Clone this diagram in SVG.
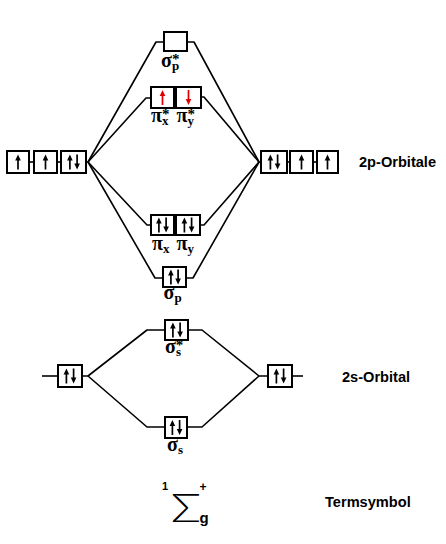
<svg xmlns="http://www.w3.org/2000/svg" width="446" height="544" viewBox="0 0 446 544">
<style>
.box{fill:#fff;stroke:#000;stroke-width:2}
.ln{fill:none;stroke:#000;stroke-width:1.6;stroke-linejoin:round}
.lbl{font-family:"Liberation Serif",serif;font-weight:bold;fill:#000;font-size:20px}
.sub{font-size:13px}
.sup{font-size:15px}
.side{font-family:"Liberation Sans",Arial,sans-serif;font-weight:bold;font-size:14.6px;fill:#000}
.ts{font-family:"Liberation Sans",Arial,sans-serif;font-weight:bold;fill:#000}
</style>
<defs>
<g id="up"><line x1="0" y1="7.5" x2="0" y2="-2" stroke="#000" stroke-width="1.7"/><polygon points="-2.8,-1.5 2.8,-1.5 0,-7.5" fill="#000"/></g>
<g id="dn"><line x1="0" y1="-7.5" x2="0" y2="2" stroke="#000" stroke-width="1.7"/><polygon points="-2.8,1.5 2.8,1.5 0,7.5" fill="#000"/></g>
<g id="upr"><line x1="0" y1="7.5" x2="0" y2="-2" stroke="#e00000" stroke-width="1.7"/><polygon points="-2.8,-1.5 2.8,-1.5 0,-7.5" fill="#e00000"/></g>
<g id="dnr"><line x1="0" y1="-7.5" x2="0" y2="2" stroke="#e00000" stroke-width="1.7"/><polygon points="-2.8,1.5 2.8,1.5 0,7.5" fill="#e00000"/></g>
<g id="pair"><use href="#up" x="-3.6"/><use href="#dn" x="3.6"/></g>
</defs>
<rect width="446" height="544" fill="#fff"/>

<g id="connectors">
<polyline class="ln" points="29,162 34,162"/>
<polyline class="ln" points="57,162 61,162"/>
<polyline class="ln" points="287,162 290,162"/>
<polyline class="ln" points="313,162 317,162"/>
<polyline class="ln" points="86,162 88,162 156,42 164,42"/>
<polyline class="ln" points="88,162 146,98 151,98"/>
<polyline class="ln" points="88,162 147,225 151,225"/>
<polyline class="ln" points="88,162 155,278 163,278"/>
<polyline class="ln" points="261,162 259,162 194,42 187,42"/>
<polyline class="ln" points="259,162 204,97 201,97"/>
<polyline class="ln" points="259,162 204,225 200,225"/>
<polyline class="ln" points="259,162 193,278 186,278"/>
<polyline class="ln" points="42,376 58,376"/>
<polyline class="ln" points="82,376 88,376 147,330 165,330"/>
<polyline class="ln" points="88,376 147,427 165,427"/>
<polyline class="ln" points="268,376 259,376 202,330 188,330"/>
<polyline class="ln" points="259,376 202,427 187,427"/>
<polyline class="ln" points="292,376 303,376"/>
</g>

<g id="left-2p">
<rect class="box" x="7" y="151" width="22" height="22"/><use href="#up" x="18" y="162"/>
<rect class="box" x="34" y="151" width="23" height="22"/><use href="#up" x="45.5" y="162"/>
<rect class="box" x="61" y="151" width="25" height="22"/><use href="#pair" x="73.5" y="162"/>
</g>

<g id="right-2p">
<rect class="box" x="261" y="151" width="26" height="22"/><use href="#pair" x="274" y="162"/>
<rect class="box" x="290" y="151" width="23" height="22"/><use href="#up" x="301.5" y="162"/>
<rect class="box" x="317" y="151" width="21" height="22"/><use href="#up" x="327.5" y="162"/>
</g>

<g id="sigma-p-star">
<rect class="box" x="164" y="32" width="23" height="19"/>
<text class="lbl" x="161" y="67">σ<tspan class="sub" dy="3">p</tspan><tspan class="sup" dx="-7.2" dy="-6">*</tspan></text>
</g>

<g id="pi-star">
<rect class="box" x="151" y="87" width="23" height="21"/><use href="#upr" x="162.5" y="97.5"/>
<rect class="box" x="176" y="87" width="25" height="21"/><use href="#dnr" x="188.5" y="97.5"/>
<text class="lbl" x="151" y="122">π<tspan class="sub" dy="3">x</tspan><tspan class="sup" dx="-6.5" dy="-6">*</tspan></text>
<text class="lbl" x="176.5" y="122">π<tspan class="sub" dy="3">y</tspan><tspan class="sup" dx="-6.5" dy="-6">*</tspan></text>
</g>

<g id="pi">
<rect class="box" x="151" y="215" width="23" height="20"/><use href="#pair" x="162.5" y="225"/>
<rect class="box" x="176" y="215" width="24" height="20"/><use href="#pair" x="188" y="225"/>
<text class="lbl" x="152" y="250">π<tspan class="sub" dy="3">x</tspan></text>
<text class="lbl" x="176.5" y="250">π<tspan class="sub" dy="3">y</tspan></text>
</g>

<g id="sigma-p">
<rect class="box" x="163" y="267" width="23" height="20"/><use href="#pair" x="174.5" y="277"/>
<text class="lbl" x="163.5" y="299">σ<tspan class="sub" dy="3">p</tspan></text>
</g>

<g id="left-2s">
<rect class="box" x="58" y="365" width="24" height="22"/><use href="#pair" x="70" y="376"/>
</g>

<g id="right-2s">
<rect class="box" x="268" y="365" width="24" height="22"/><use href="#pair" x="280" y="376"/>
</g>

<g id="sigma-s-star">
<rect class="box" x="165" y="320" width="23" height="20"/><use href="#pair" x="176.5" y="330"/>
<text class="lbl" x="165" y="353">σ<tspan class="sub" dy="3">s</tspan><tspan class="sup" dx="-5.1" dy="-6">*</tspan></text>
</g>

<g id="sigma-s">
<rect class="box" x="165" y="417" width="22" height="21"/><use href="#pair" x="176" y="427.5"/>
<text class="lbl" x="167" y="451">σ<tspan class="sub" dy="3">s</tspan></text>
</g>

<g id="labels">
<text class="side" x="359" y="167">2p-Orbitale</text>
<text class="side" x="342" y="382">2s-Orbital</text>
<text class="side" x="325" y="507">Termsymbol</text>
</g>

<g id="term-symbol">
<text transform="translate(171,522) scale(1.25,1)" x="0" y="0" font-family="Lato,sans-serif" font-weight="300" font-size="40" fill="#000">Σ</text>
<text class="ts" x="162" y="490" font-size="11">1</text>
<text class="ts" x="199.5" y="491" font-size="12">+</text>
<text class="ts" x="199.5" y="523" font-size="15">g</text>
</g>
</svg>
